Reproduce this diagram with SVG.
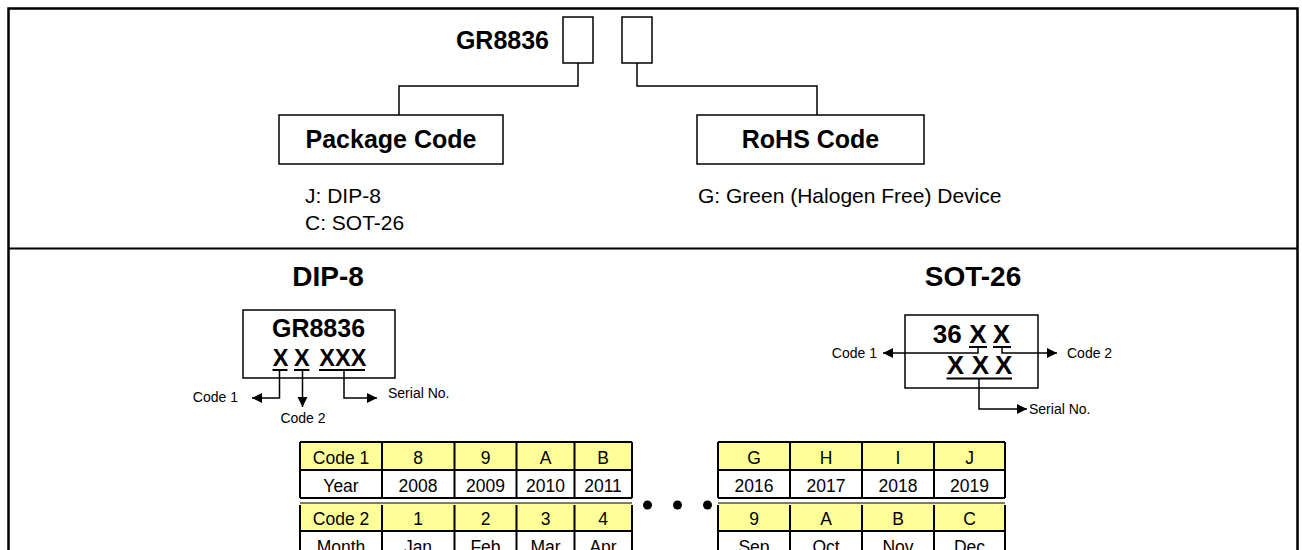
<svg xmlns="http://www.w3.org/2000/svg" width="1302" height="550" viewBox="0 0 1302 550">
<style>
text{font-family:"Liberation Sans",Arial,sans-serif;fill:#000}
.b{font-weight:bold}
.box{fill:#fff;stroke:#000;stroke-width:1.5}
.ln{fill:none;stroke:#000;stroke-width:1.5}
.ul{stroke:#000;stroke-width:2}
.sm{font-size:14px}
.t{font-size:17.5px;text-anchor:middle}
.y{fill:#FFFF99}
.w{fill:#fff}
.g{stroke:#000;stroke-width:2;fill:none}
</style>
<defs>
<marker id="ah" markerUnits="userSpaceOnUse" markerWidth="11" markerHeight="11" refX="10" refY="5" orient="auto">
<path d="M0,0 L10,5 L0,10 z" fill="#000"/>
</marker>
</defs>
<rect width="1302" height="550" fill="#fff"/>
<g id="frame">
<rect x="8.5" y="8.5" width="1289" height="560" fill="none" stroke="#000" stroke-width="2.5"/>
<line x1="8" y1="248.5" x2="1298" y2="248.5" stroke="#000" stroke-width="2"/>
</g>
<g id="partnumber">
<text class="b" x="549" y="49" font-size="25" text-anchor="end">GR8836</text>
<rect class="box" x="563" y="17" width="30" height="46"/>
<rect class="box" x="622" y="17" width="30" height="46"/>
</g>
<g id="packagecode">
<rect class="box" x="279" y="115" width="224" height="49"/>
<text class="b" x="391" y="148" font-size="25" text-anchor="middle">Package Code</text>
<text x="305" y="203" font-size="21">J: DIP-8</text>
<text x="305" y="230" font-size="21">C: SOT-26</text>
</g>
<g id="rohscode">
<rect class="box" x="697" y="115" width="227" height="49"/>
<text class="b" x="810.5" y="148" font-size="25" text-anchor="middle">RoHS Code</text>
<text x="698" y="203" font-size="21">G: Green (Halogen Free) Device</text>
</g>
<g id="dip8">
<text class="b" x="328" y="286" font-size="28" text-anchor="middle">DIP-8</text>
<rect class="box" x="243" y="310" width="152" height="68"/>
<text class="b" x="318.5" y="337" font-size="25" text-anchor="middle">GR8836</text>
<text class="b" x="272.7" y="366" font-size="23.5">X</text>
<text class="b" x="294" y="366" font-size="23.5">X</text>
<text class="b" x="319.3" y="366" font-size="23.5">XXX</text>
<line class="ul" x1="272.5" y1="370" x2="287.5" y2="370"/>
<line class="ul" x1="294" y1="370" x2="309.5" y2="370"/>
<line class="ul" x1="319" y1="370" x2="365" y2="370"/>
<text class="sm" x="238" y="402" text-anchor="end">Code 1</text>
<text class="sm" x="303" y="423" text-anchor="middle">Code 2</text>
<text class="sm" x="388" y="398">Serial No.</text>
</g>
<g id="sot26">
<text class="b" x="973" y="286" font-size="28" text-anchor="middle">SOT-26</text>
<rect class="box" x="905" y="315" width="133" height="73"/>
<text class="b" x="932.7" y="343" font-size="26">36</text>
<text class="b" x="969.3" y="343" font-size="26">X</text>
<text class="b" x="992.7" y="343" font-size="26">X</text>
<text class="b" x="946.7" y="374" font-size="26">X</text>
<text class="b" x="971.7" y="374" font-size="26">X</text>
<text class="b" x="995" y="374" font-size="26">X</text>
<line class="ul" x1="969" y1="347" x2="987" y2="347"/>
<line class="ul" x1="993" y1="347" x2="1011" y2="347"/>
<line class="ul" x1="946.5" y1="378.5" x2="1012" y2="378.5"/>
<text class="sm" x="877" y="358" text-anchor="end">Code 1</text>
<text class="sm" x="1067" y="358">Code 2</text>
<text class="sm" x="1029" y="414">Serial No.</text>
</g>
<g id="connectors">
<path class="ln" d="M578,63 V86 H399 V115"/>
<path class="ln" d="M637,63 V86 H817 V115"/>
<path class="ln" d="M279.5,370 V398 H252" marker-end="url(#ah)"/>
<path class="ln" d="M302.5,370 V407" marker-end="url(#ah)"/>
<path class="ln" d="M344,370 V398 H377" marker-end="url(#ah)"/>
<path class="ln" d="M978,347 V353 H883" marker-end="url(#ah)"/>
<path class="ln" d="M1002,347 V353 H1057" marker-end="url(#ah)"/>
<path class="ln" d="M979,378.5 V409 H1027" marker-end="url(#ah)"/>
</g>
<g id="table-left">
<rect class="y" x="300" y="442" width="332" height="28"/>
<rect class="w" x="300" y="470" width="332" height="28"/>
<rect class="y" x="300" y="503" width="332" height="28"/>
<rect class="w" x="300" y="531" width="332" height="30"/>
<path class="g" d="M300,442 H632 M300,470 H632 M300,498 H632 M300,531 H632 M300,442 V498 M382,442 V498 M454.5,442 V498 M516.5,442 V498 M574.5,442 V498 M632,442 V498"/>
<path class="g" d="M300,505 V561 M382,505 V561 M454.5,505 V561 M516.5,505 V561 M574.5,505 V561 M632,505 V561"/>
<line x1="300" y1="503" x2="632" y2="503" stroke="#000" stroke-width="1.2"/>
<text class="t" x="341" y="464">Code 1</text>
<text class="t" x="418" y="464">8</text>
<text class="t" x="485.5" y="464">9</text>
<text class="t" x="545.5" y="464">A</text>
<text class="t" x="603" y="464">B</text>
<text class="t" x="341" y="492">Year</text>
<text class="t" x="418" y="492">2008</text>
<text class="t" x="485.5" y="492">2009</text>
<text class="t" x="545.5" y="492">2010</text>
<text class="t" x="603" y="492">2011</text>
<text class="t" x="341" y="525">Code 2</text>
<text class="t" x="418" y="525">1</text>
<text class="t" x="485.5" y="525">2</text>
<text class="t" x="545.5" y="525">3</text>
<text class="t" x="603" y="525">4</text>
<text class="t" x="341" y="553">Month</text>
<text class="t" x="418" y="553">Jan</text>
<text class="t" x="485.5" y="553">Feb</text>
<text class="t" x="545.5" y="553">Mar</text>
<text class="t" x="603" y="553">Apr</text>
</g>
<g id="ellipsis">
<circle cx="647.5" cy="505" r="4.5"/>
<circle cx="677.5" cy="505" r="4.5"/>
<circle cx="707.5" cy="505" r="4.5"/>
</g>
<g id="table-right">
<rect class="y" x="718" y="442" width="287" height="28"/>
<rect class="w" x="718" y="470" width="287" height="28"/>
<rect class="y" x="718" y="503" width="287" height="28"/>
<rect class="w" x="718" y="531" width="287" height="30"/>
<path class="g" d="M718,442 H1005 M718,470 H1005 M718,498 H1005 M718,531 H1005 M718,442 V498 M790,442 V498 M862,442 V498 M934,442 V498 M1005,442 V498"/>
<path class="g" d="M718,505 V561 M790,505 V561 M862,505 V561 M934,505 V561 M1005,505 V561"/>
<line x1="718" y1="503" x2="1005" y2="503" stroke="#000" stroke-width="1.2"/>
<text class="t" x="754" y="464">G</text>
<text class="t" x="826" y="464">H</text>
<text class="t" x="898" y="464">I</text>
<text class="t" x="969.5" y="464">J</text>
<text class="t" x="754" y="492">2016</text>
<text class="t" x="826" y="492">2017</text>
<text class="t" x="898" y="492">2018</text>
<text class="t" x="969.5" y="492">2019</text>
<text class="t" x="754" y="525">9</text>
<text class="t" x="826" y="525">A</text>
<text class="t" x="898" y="525">B</text>
<text class="t" x="969.5" y="525">C</text>
<text class="t" x="754" y="553">Sep</text>
<text class="t" x="826" y="553">Oct</text>
<text class="t" x="898" y="553">Nov</text>
<text class="t" x="969.5" y="553">Dec</text>
</g>
</svg>
